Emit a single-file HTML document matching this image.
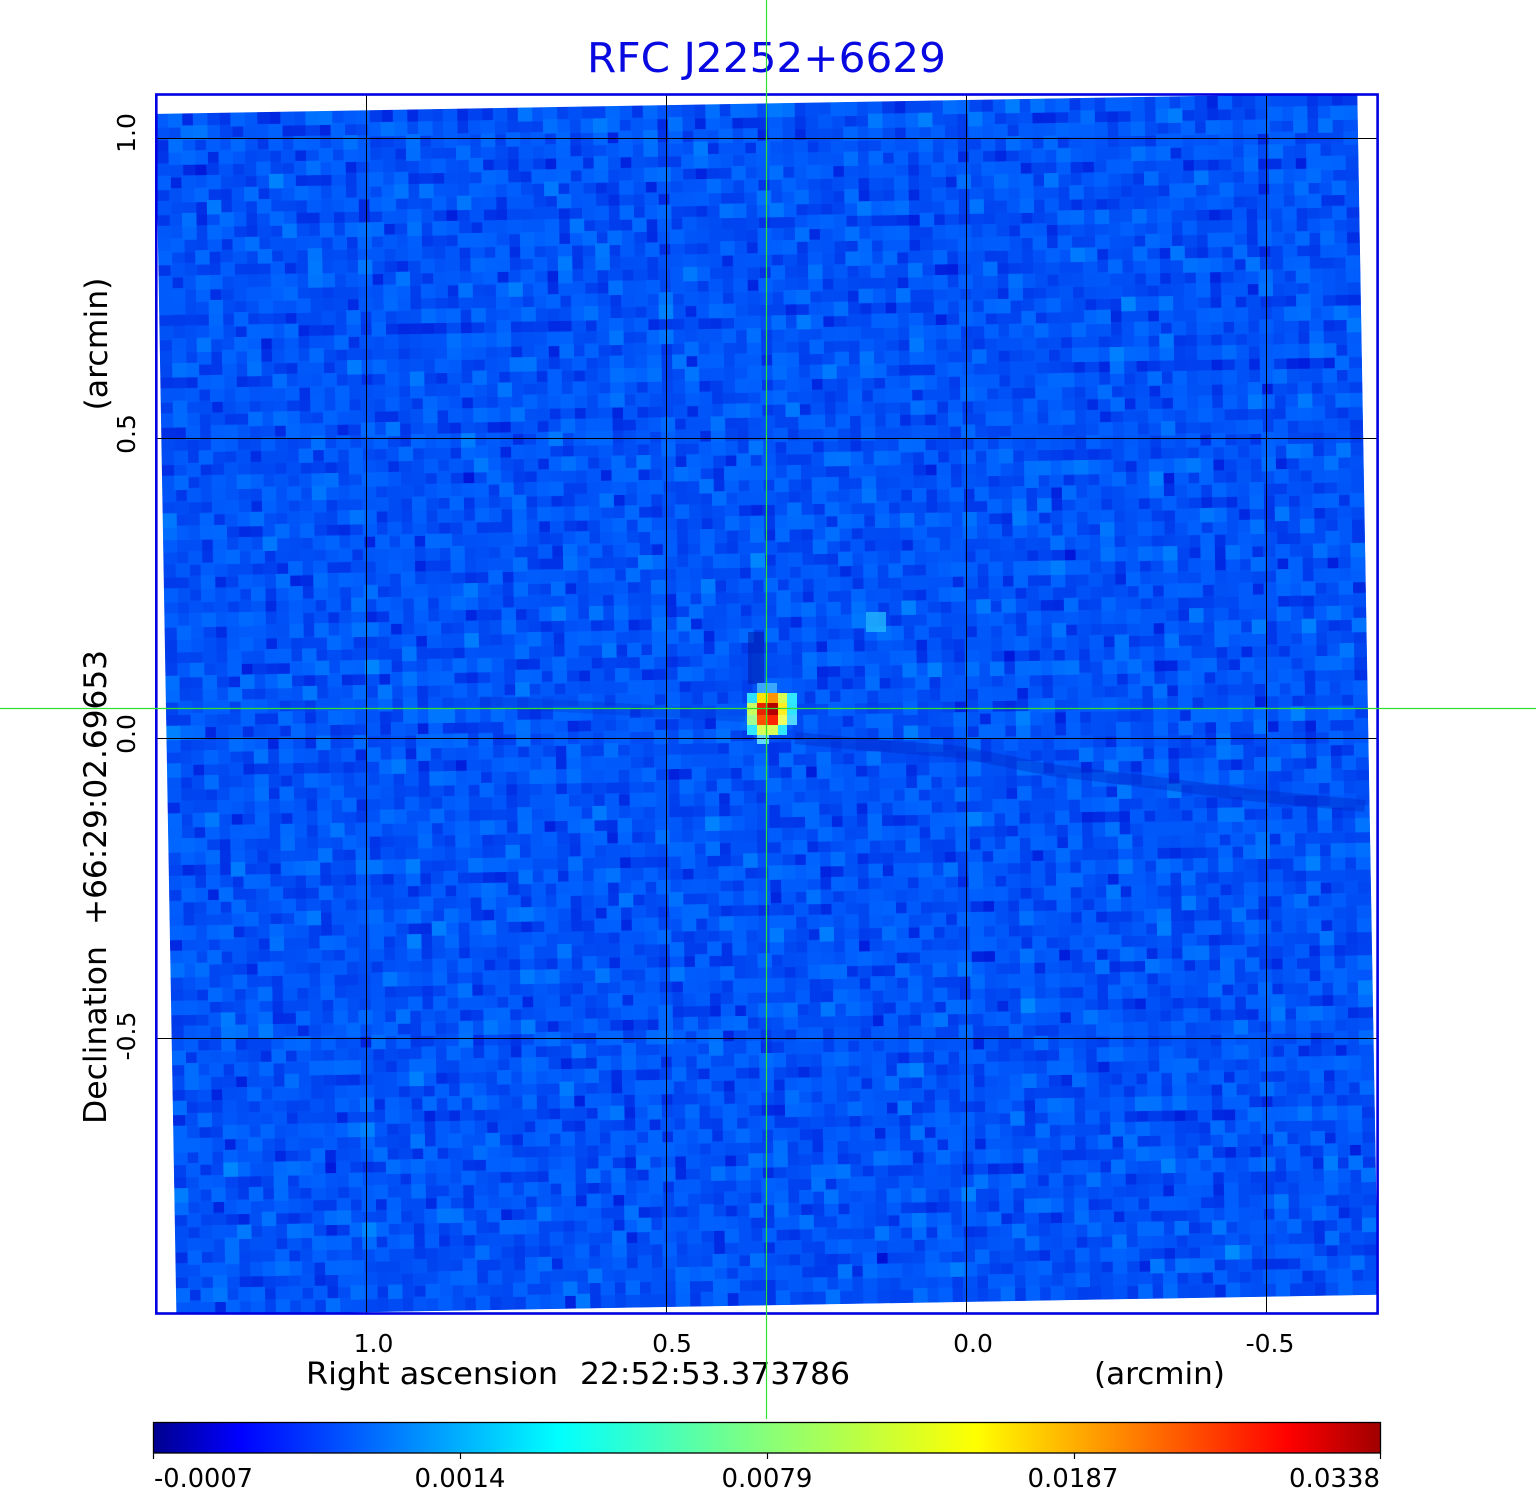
<!DOCTYPE html>
<html>
<head>
<meta charset="utf-8">
<style>
  html, body { margin:0; padding:0; background:#ffffff; }
  body { width:1536px; height:1511px; overflow:hidden; }
  svg { display:block; }
  text { font-family: "DejaVu Sans", "Liberation Sans", sans-serif; }
</style>
</head>
<body>
<svg width="1536" height="1511" viewBox="0 0 1536 1511" xmlns="http://www.w3.org/2000/svg">
  <defs>
    <clipPath id="frameClip">
      <rect x="157.5" y="95.5" width="1219" height="1217"/>
    </clipPath>
    <filter id="noise" filterUnits="userSpaceOnUse" primitiveUnits="userSpaceOnUse" x="166.3" y="103.8" width="1201.4" height="1201.4" color-interpolation-filters="sRGB">
      <feTurbulence type="fractalNoise" baseFrequency="0.06" numOctaves="2" seed="7" result="t"/>
      <feColorMatrix in="t" type="matrix" values="0 0 0 0 0  0.62 0 0 0 -0.01  0.32 0 0 0 0.80  0 0 0 0 1" result="c"/>
      <feFlood x="172.3" y="109.8" width="1" height="1" flood-color="#ffffff" flood-opacity="1" result="dot"/>
      <feComposite in="dot" in2="dot" operator="over" x="166.3" y="103.8" width="13" height="13" result="cell"/>
      <feTile in="cell" result="grid"/>
      <feComposite in="c" in2="grid" operator="in" result="samples"/>
      <feMorphology in="samples" operator="dilate" radius="6.5"/>
    </filter>
    <linearGradient id="jet" x1="0" y1="0" x2="1" y2="0">
      <stop offset="0" stop-color="#00008f"/>
      <stop offset="0.07" stop-color="#0000ff"/>
      <stop offset="0.33" stop-color="#00ffff"/>
      <stop offset="0.49" stop-color="#80ff80"/>
      <stop offset="0.67" stop-color="#ffff00"/>
      <stop offset="0.925" stop-color="#ff0000"/>
      <stop offset="1" stop-color="#a00000"/>
    </linearGradient>
  </defs>

  <!-- image area -->
  <g clip-path="url(#frameClip)">
    <g transform="rotate(-0.985 767 704.5)">
      <rect x="166.3" y="103.8" width="1201.4" height="1201.4" fill="#004ef8"/>
      <rect x="166.3" y="103.8" width="1201.4" height="1201.4" fill="#004ef8" filter="url(#noise)"/>
    </g>
    <!-- dark streaks -->
    <polyline points="795,738 870,745 960,752 1050,770 1150,782 1250,795 1365,806" fill="none" stroke="#0028c8" stroke-width="12" stroke-opacity="0.4"/>
    <polyline points="480,702 600,708 745,716" fill="none" stroke="#0028c8" stroke-width="12" stroke-opacity="0.25"/>
    <rect x="748" y="632" width="16" height="52" fill="#0018a8" fill-opacity="0.5"/>
    <!-- faint bright spot -->
    <rect x="866" y="612" width="20" height="20" fill="#20b8ff" fill-opacity="0.8"/>
    <!-- source -->
    <rect x="757" y="683" width="20" height="10" fill="#3aa8ff"/>
    <rect x="747" y="693" width="10" height="10" fill="#30e0ff"/>
    <rect x="757" y="693" width="11" height="10" fill="#ffe400"/>
    <rect x="768" y="693" width="10" height="10" fill="#ff9400"/>
    <rect x="778" y="693" width="9" height="10" fill="#d8ff50"/>
    <rect x="787" y="693" width="10" height="10" fill="#30e8ff"/>
    <rect x="747" y="703" width="10" height="12" fill="#c8ff60"/>
    <rect x="757" y="703" width="11" height="12" fill="#e82400"/>
    <rect x="768" y="703" width="10" height="12" fill="#b40000"/>
    <rect x="778" y="703" width="9" height="12" fill="#ffee20"/>
    <rect x="787" y="703" width="10" height="12" fill="#30e4ff"/>
    <rect x="747" y="715" width="10" height="10" fill="#a0ff90"/>
    <rect x="757" y="715" width="11" height="10" fill="#ff5000"/>
    <rect x="768" y="715" width="10" height="10" fill="#ff2400"/>
    <rect x="778" y="715" width="9" height="10" fill="#f0ff60"/>
    <rect x="787" y="715" width="10" height="10" fill="#50d8ff"/>
    <rect x="747" y="725" width="10" height="10" fill="#30e8ff"/>
    <rect x="757" y="725" width="21" height="10" fill="#d8ff58"/>
    <rect x="778" y="725" width="9" height="10" fill="#30e8ff"/>
    <rect x="757" y="735" width="12" height="9" fill="#60d8ff"/>
  </g>

  <!-- grid lines -->
  <g stroke="#000000" stroke-width="1">
    <line x1="366.5" y1="95" x2="366.5" y2="1313"/>
    <line x1="666.5" y1="95" x2="666.5" y2="1313"/>
    <line x1="966.5" y1="95" x2="966.5" y2="1313"/>
    <line x1="1266.5" y1="95" x2="1266.5" y2="1313"/>
    <line x1="157" y1="138.5" x2="1377" y2="138.5"/>
    <line x1="157" y1="438.5" x2="1377" y2="438.5"/>
    <line x1="157" y1="738.5" x2="1377" y2="738.5"/>
    <line x1="157" y1="1038.5" x2="1377" y2="1038.5"/>
  </g>

  <!-- frame -->
  <rect x="156.3" y="94.5" width="1221.3" height="1219" fill="none" stroke="#0000e0" stroke-width="2.6"/>

  <!-- title -->
  <text x="766.5" y="72" font-size="41" text-anchor="middle" fill="#0808e0" textLength="359" lengthAdjust="spacingAndGlyphs">RFC J2252+6629</text>

  <!-- x tick labels -->
  <g font-size="25" fill="#000" text-anchor="middle">
    <text x="373.5" y="1352">1.0</text>
    <text x="672" y="1352">0.5</text>
    <text x="973" y="1352">0.0</text>
    <text x="1270" y="1352">-0.5</text>
  </g>

  <!-- x axis label -->
  <text x="306" y="1384" font-size="30" fill="#000" textLength="252" lengthAdjust="spacingAndGlyphs">Right ascension</text>
  <text x="850" y="1384" font-size="30" fill="#000" text-anchor="end" textLength="270" lengthAdjust="spacingAndGlyphs">22:52:53.373786</text>
  <text x="1094" y="1384" font-size="30" fill="#000" textLength="131" lengthAdjust="spacingAndGlyphs">(arcmin)</text>

  <!-- y tick labels -->
  <g font-size="25" fill="#000" text-anchor="middle">
    <text transform="translate(135,133) rotate(-90)">1.0</text>
    <text transform="translate(135,434) rotate(-90)">0.5</text>
    <text transform="translate(135,734) rotate(-90)">0.0</text>
    <text transform="translate(135,1036) rotate(-90)">-0.5</text>
  </g>

  <!-- y axis label -->
  <text transform="translate(106,1124) rotate(-90)" font-size="31" fill="#000" textLength="178" lengthAdjust="spacingAndGlyphs">Declination</text>
  <text transform="translate(106,650) rotate(-90)" font-size="31" fill="#000" text-anchor="end" textLength="275" lengthAdjust="spacingAndGlyphs">+66:29:02.69653</text>
  <text transform="translate(107,344) rotate(-90)" font-size="31" fill="#000" text-anchor="middle" textLength="133" lengthAdjust="spacingAndGlyphs">(arcmin)</text>

  <!-- colorbar -->
  <rect x="153.5" y="1422.5" width="1227" height="30.5" fill="url(#jet)" stroke="#000" stroke-width="1.3"/>
  <g stroke="#000" stroke-width="1.2">
    <line x1="153.5" y1="1453" x2="153.5" y2="1459"/>
    <line x1="460.5" y1="1453" x2="460.5" y2="1459"/>
    <line x1="767.5" y1="1453" x2="767.5" y2="1459"/>
    <line x1="1074.5" y1="1453" x2="1074.5" y2="1459"/>
    <line x1="1380.5" y1="1453" x2="1380.5" y2="1459"/>
  </g>
  <g font-size="26" fill="#000">
    <text x="154" y="1487" textLength="99" lengthAdjust="spacingAndGlyphs">-0.0007</text>
    <text x="460" y="1487" text-anchor="middle">0.0014</text>
    <text x="767" y="1487" text-anchor="middle">0.0079</text>
    <text x="1073" y="1487" text-anchor="middle">0.0187</text>
    <text x="1380" y="1487" text-anchor="end">0.0338</text>
  </g>

  <!-- green crosshair -->
  <line x1="766.5" y1="0" x2="766.5" y2="1419" stroke="#30e030" stroke-width="1.2"/>
  <line x1="0" y1="708.5" x2="1536" y2="708.5" stroke="#30e030" stroke-width="1.2"/>
</svg>
</body>
</html>
